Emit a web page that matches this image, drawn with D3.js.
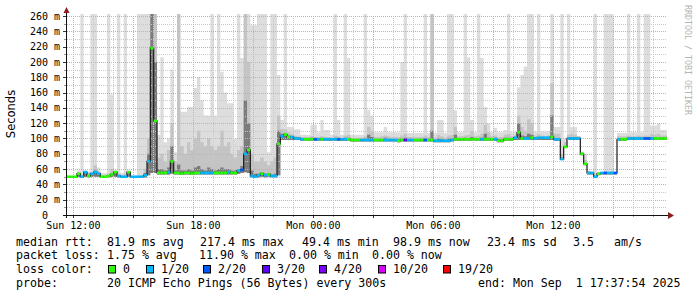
<!DOCTYPE html>
<html>
<head>
<meta charset="utf-8">
<script src="https://cdn.jsdelivr.net/npm/d3@7"></script>
<style>
  body { margin: 0; background: #fff; }
  text { font-family: "DejaVu Sans Mono", monospace; white-space: pre; }
</style>
</head>
<body>
<svg id="chart" width="697" height="297"></svg>
<script>
// 10 minute samples, 30 hours
const START = new Date(2025, 7, 31, 11, 41, 0)
const STEP_MS = 10 * 60 * 1000

const median = [
  50, 50, 50, 54, 50, 56, 51, 54, 56, 54,
  50, 50, 51, 53, 56, 51, 50, 50, 56, 50,
  50, 50, 50, 52, 70, 218, 123, 55, 55, 55,
  56, 70, 55, 55, 54, 55, 55, 54, 55, 55,
  55, 55, 55, 55, 55, 55, 55, 55, 56, 55,
  55, 58, 59, 80, 85, 51, 50, 52, 54, 52,
  53, 51, 51, 93, 103, 105, 102, 102, 100, 100,
  99, 99, 99, 99, 99, 99, 99, 99, 99, 99,
  99, 99, 99, 99, 99, 98, 98, 98, 98, 98,
  98, 98, 98, 98, 98, 98, 98, 98, 98, 97,
  98, 98, 98, 98, 98, 98, 98, 98, 98, 98,
  97, 97, 97, 97, 97, 98, 99, 99, 99, 99,
  99, 99, 99, 99, 99, 99, 99, 99, 99, 97,
  97, 99, 99, 99, 101, 108, 100, 100, 100, 101,
  100, 101, 101, 101, 101, 102, 99, 99, 73, 89,
  100, 100, 100, 100, 80, 67, 55, 55, 50, 54,
  55, 55, 55, 55, 55, 99, 99, 99, 100, 100,
  100, 100, 100, 100, 100, 100, 100, 100, 100, 100,
]

// lost pings out of 20
const loss = [
  0, 0, 0, 0, 1, 1, 0, 1, 1, 1,
  0, 0, 0, 0, 0, 1, 1, 1, 0, 1,
  1, 1, 1, 1, 1, 0, 0, 0, 0, 0,
  1, 0, 0, 0, 0, 0, 0, 0, 0, 0,
  1, 1, 1, 1, 0, 0, 0, 0, 1, 0,
  0, 1, 2, 1, 0, 1, 1, 1, 0, 1,
  0, 1, 1, 0, 1, 0, 0, 1, 1, 1,
  1, 0, 0, 0, 2, 1, 0, 1, 1, 1,
  1, 2, 1, 1, 0, 0, 0, 0, 1, 1,
  1, 1, 0, 0, 0, 1, 1, 1, 1, 0,
  0, 3, 1, 1, 0, 0, 0, 2, 0, 0,
  1, 1, 1, 1, 1, 1, 0, 0, 0, 0,
  0, 0, 0, 0, 1, 0, 0, 0, 1, 0,
  0, 0, 0, 0, 1, 0, 0, 1, 1, 0,
  1, 1, 1, 1, 1, 0, 1, 1, 1, 0,
  1, 1, 1, 1, 0, 0, 1, 1, 1, 0,
  1, 2, 1, 1, 2, 1, 0, 0, 1, 1,
  1, 1, 1, 2, 2, 1, 0, 0, 0, 0,
]

// smoke: lowest ping, and tops of the dark / mid / light bands
const smokeMin = [
  49, 49, 49, 50, 49, 50, 49, 50, 50, 50,
  49, 49, 49, 50, 50, 49, 49, 49, 50, 49,
  49, 49, 49, 49, 52, 55, 55, 53, 53, 53,
  53, 54, 53, 53, 53, 53, 53, 53, 53, 53,
  53, 53, 53, 53, 53, 53, 53, 53, 53, 53,
  53, 54, 55, 56, 55, 49, 49, 49, 50, 49,
  50, 49, 49, 52, 98, 98, 98, 98, 98, 98,
  97, 97, 97, 97, 97, 97, 97, 97, 97, 97,
  97, 97, 97, 97, 97, 96, 96, 96, 96, 96,
  96, 96, 96, 96, 96, 96, 96, 96, 96, 95,
  96, 96, 96, 96, 96, 96, 96, 96, 96, 96,
  95, 95, 95, 95, 95, 96, 97, 97, 97, 97,
  97, 97, 97, 97, 97, 97, 97, 97, 97, 95,
  95, 97, 97, 97, 98, 98, 98, 98, 98, 98,
  98, 98, 98, 98, 98, 98, 97, 97, 72, 88,
  98, 98, 98, 98, 78, 65, 53, 53, 49, 52,
  53, 53, 53, 53, 53, 97, 97, 97, 98, 98,
  98, 98, 98, 98, 98, 98, 98, 98, 98, 98,
]

const smokeDark = [
  50, 50, 50, 55, 51, 56, 52, 55, 58, 55,
  51, 51, 52, 54, 56, 52, 51, 51, 56, 50,
  50, 50, 51, 55, 80, 270, 200, 60, 60, 58,
  62, 90, 58, 66, 58, 58, 60, 58, 62, 64,
  60, 58, 62, 60, 58, 60, 62, 60, 60, 58,
  58, 60, 64, 150, 120, 58, 54, 54, 56, 54,
  55, 53, 54, 110, 106, 107, 104, 103, 102, 101,
  100, 100, 100, 101, 100, 100, 101, 100, 100, 100,
  101, 100, 100, 101, 101, 99, 99, 99, 99, 100,
  105, 102, 99, 99, 99, 101, 99, 99, 99, 99,
  100, 101, 99, 99, 99, 99, 99, 100, 99, 110,
  98, 100, 99, 98, 100, 100, 105, 100, 100, 101,
  100, 102, 100, 100, 101, 106, 101, 100, 101, 99,
  99, 101, 101, 100, 102, 120, 104, 103, 106, 105,
  101, 102, 102, 102, 102, 130, 100, 100, 75, 90,
  101, 101, 101, 101, 81, 68, 56, 56, 51, 55,
  56, 56, 56, 56, 56, 100, 100, 100, 101, 101,
  101, 101, 101, 101, 101, 102, 101, 101, 101, 101,
]

const smokeMid = [
  50, 50, 50, 56, 53, 57, 55, 56, 65, 57,
  52, 52, 54, 60, 57, 54, 52, 54, 57, 50,
  50, 51, 52, 60, 100, 270, 270, 75, 80, 70,
  85, 120, 70, 270, 90, 80, 95, 85, 100, 110,
  95, 90, 100, 90, 85, 90, 110, 90, 95, 80,
  75, 85, 90, 270, 200, 80, 70, 70, 75, 70,
  65, 70, 75, 130, 112, 112, 108, 106, 104, 103,
  102, 102, 102, 103, 102, 102, 103, 102, 102, 101,
  104, 103, 101, 104, 105, 101, 101, 101, 101, 103,
  115, 110, 102, 102, 103, 104, 103, 102, 102, 102,
  104, 106, 102, 102, 102, 102, 102, 104, 102, 270,
  101, 105, 103, 101, 104, 105, 115, 103, 103, 104,
  105, 110, 103, 104, 106, 118, 108, 103, 104, 102,
  102, 105, 106, 103, 104, 130, 115, 110, 125, 120,
  104, 106, 104, 103, 104, 172, 106, 106, 80, 95,
  105, 106, 105, 103, 82, 72, 57, 56, 52, 55,
  56, 57, 56, 57, 56, 103, 103, 103, 104, 103,
  103, 104, 103, 104, 104, 106, 105, 106, 104, 104,
]

const smokeMax = [
  50, 51, 51, 58, 270, 58, 57, 270, 270, 62,
  55, 55, 270, 157, 58, 270, 55, 270, 58, 51,
  51, 270, 270, 270, 270, 270, 270, 105, 206, 95,
  100, 190, 82, 270, 135, 135, 141, 141, 166, 180,
  150, 130, 130, 270, 130, 270, 187, 160, 146, 146,
  100, 270, 205, 270, 270, 248, 248, 270, 270, 270,
  82, 270, 270, 183, 124, 270, 115, 115, 112, 112,
  105, 105, 105, 118, 118, 108, 124, 111, 111, 105,
  270, 124, 105, 270, 205, 105, 105, 105, 105, 270,
  137, 130, 108, 108, 108, 115, 108, 108, 108, 108,
  200, 270, 107, 107, 107, 107, 107, 270, 107, 270,
  107, 124, 124, 107, 270, 270, 137, 108, 108, 270,
  206, 124, 108, 270, 205, 141, 120, 108, 114, 108,
  108, 111, 270, 108, 108, 167, 183, 194, 270, 270,
  109, 270, 109, 109, 109, 270, 115, 115, 270, 100,
  270, 115, 115, 103, 83, 80, 58, 57, 270, 56,
  56, 270, 270, 270, 56, 107, 107, 107, 270, 108,
  108, 270, 108, 270, 270, 117, 117, 120, 111, 111,
]

const lossLabels = ["0", "1/20", "2/20", "3/20", "4/20", "10/20", "19/20"]
const lossColors = ["#26ff00", "#00b8ff", "#0059ff", "#5e00ff", "#7e00ff", "#dd00ff", "#ff0000"]
const lossBreaks = [1, 2, 3, 4, 10, 19]

const rttLegend = ["81.9 ms avg", "217.4 ms max", "49.4 ms min", "98.9 ms now", "23.4 ms sd", "3.5", "am/s"]
const lossLegend = ["1.75 % avg", "11.90 % max", "0.00 % min", "0.00 % now"]
const probeText = "20 ICMP Echo Pings (56 Bytes) every 300s"
const endText = "end: Mon Sep  1 17:37:54 2025"

const LEFT = 67
const WIDTH = 600
const TOP = 16
const BOTTOM = 215

const svg = d3.select("#chart")

const rows = median.map((m, i) => ({
  t: new Date(START.getTime() + i * STEP_MS),
  median: m,
  loss: loss[i],
  min: smokeMin[i],
  dark: smokeDark[i],
  mid: smokeMid[i],
  max: smokeMax[i],
}))
// closing point for the step curves
const last = rows[rows.length - 1]
const stepRows = rows.concat([{...last, t: new Date(last.t.getTime() + STEP_MS)}])

const x = d3
  .scaleTime()
  .domain([START, new Date(START.getTime() + 30 * 3600 * 1000)])
  .range([LEFT, LEFT + WIDTH])
const y = d3.scaleLinear().domain([0, 260]).range([BOTTOM, TOP])
const lossColor = d3.scaleThreshold().domain(lossBreaks).range(lossColors)

svg
  .append("defs")
  .append("clipPath")
  .attr("id", "plot")
  .append("rect")
  .attr("x", LEFT)
  .attr("y", TOP - 2)
  .attr("width", WIDTH)
  .attr("height", BOTTOM - TOP + 2)

// smoke
const smoke = svg.append("g").attr("clip-path", "url(#plot)")
const bands = [
  ["max", "#dddddd"],
  ["mid", "#c4c4c4"],
  ["dark", "#7c7c7c"],
]
bands.forEach(([key, color]) => {
  const area = d3
    .area()
    .curve(d3.curveStepAfter)
    .x((d) => x(d.t))
    .y0((d) => y(d.min))
    .y1((d) => y(d[key]))
  smoke.append("path").datum(stepRows).attr("d", area).attr("fill", color)
})

// grid
const grid = svg.append("g").attr("shape-rendering", "crispEdges")
d3.range(10, 261, 10).forEach((v) => {
  const major = v % 20 === 0
  grid
    .append("line")
    .attr("x1", LEFT)
    .attr("x2", LEFT + WIDTH)
    .attr("y1", Math.round(y(v)) + 0.5)
    .attr("y2", Math.round(y(v)) + 0.5)
    .attr("stroke", major ? "#e8a0a0" : "#c8c8c8")
    .attr("stroke-dasharray", "1,1")
  grid
    .append("line")
    .attr("x1", major ? 63 : 64)
    .attr("x2", LEFT)
    .attr("y1", Math.round(y(v)) + 0.5)
    .attr("y2", Math.round(y(v)) + 0.5)
    .attr("stroke", major ? "#333" : "#999")
})
x.ticks(d3.timeHour.every(1)).forEach((t) => {
  const major = t.getHours() % 3 === 0
  const px = Math.round(x(t)) + 0.5
  grid
    .append("line")
    .attr("x1", px)
    .attr("x2", px)
    .attr("y1", TOP)
    .attr("y2", BOTTOM)
    .attr("stroke", major ? "#e8a0a0" : "#c8c8c8")
    .attr("stroke-dasharray", "1,1")
  grid
    .append("line")
    .attr("x1", px)
    .attr("x2", px)
    .attr("y1", BOTTOM)
    .attr("y2", BOTTOM + (major ? 3 : 2))
    .attr("stroke", major ? "#333" : "#999")
})

// median line
const plot = svg.append("g").attr("clip-path", "url(#plot)")
plot
  .append("path")
  .datum(stepRows)
  .attr(
    "d",
    d3
      .line()
      .curve(d3.curveStepAfter)
      .x((d) => x(d.t))
      .y((d) => y(d.median))
  )
  .attr("fill", "none")
  .attr("stroke", "#1a1a1a")
  .attr("stroke-width", 1.2)
plot
  .selectAll(".seg")
  .data(rows)
  .enter()
  .append("line")
  .attr("class", "seg")
  .attr("x1", (d) => x(d.t))
  .attr("x2", (d) => x(new Date(d.t.getTime() + STEP_MS)))
  .attr("y1", (d) => y(d.median))
  .attr("y2", (d) => y(d.median))
  .attr("stroke", (d) => lossColor(d.loss))
  .attr("stroke-width", 2.6)

// axes
const axis = svg.append("g").attr("shape-rendering", "crispEdges")
axis
  .append("line")
  .attr("x1", 63)
  .attr("x2", 669)
  .attr("y1", BOTTOM + 0.5)
  .attr("y2", BOTTOM + 0.5)
  .attr("stroke", "#111")
axis
  .append("line")
  .attr("x1", 66.5)
  .attr("x2", 66.5)
  .attr("y1", BOTTOM + 3)
  .attr("y2", 12)
  .attr("stroke", "#111")
svg
  .append("path")
  .attr("d", "M668,212 L674,215.5 L668,219 Z")
  .attr("fill", "#8e1c1c")
svg
  .append("path")
  .attr("d", "M63.5,13 L66.5,7 L69.5,13 Z")
  .attr("fill", "#8e1c1c")

// tick labels
const fmt = d3.timeFormat("%a %H:%M")
svg
  .selectAll(".xl")
  .data(x.ticks(d3.timeHour.every(6)))
  .enter()
  .append("text")
  .attr("x", (d) => x(d))
  .attr("y", 228.5)
  .attr("text-anchor", "middle")
  .attr("font-size", 10)
  .text((d) => fmt(d))
svg
  .selectAll(".yl")
  .data(d3.range(0, 261, 20))
  .enter()
  .append("text")
  .attr("x", (d) => (d === 0 ? 48 : 60))
  .attr("y", (d) => y(d) + 3.6)
  .attr("text-anchor", "end")
  .attr("font-size", 10)
  .text((d) => (d === 0 ? "0" : `${d} m`))

svg
  .append("text")
  .attr("transform", "translate(15,114) rotate(-90)")
  .attr("text-anchor", "middle")
  .attr("font-size", 11.5)
  .style("font-family", "DejaVu Sans")
  .text("Seconds")

svg
  .append("text")
  .attr("transform", "translate(685,5) rotate(90)")
  .attr("font-size", 8.3)
  .attr("fill", "#b4b4b4")
  .text("RRDTOOL / TOBI OETIKER")

// legend
const FS = 11.6
const legend = svg.append("g").attr("font-size", FS)
const row = (txt, px, py) =>
  legend.append("text").attr("x", px).attr("y", py).text(txt)

row("median rtt:", 16, 245.5)
const rttX = [107, 200, 302, 393, 487, 573, 614]
rttLegend.forEach((s, i) => row(s, rttX[i], 245.5))

row("packet loss:", 16, 259)
const lossX = [107, 199, 289, 372]
lossLegend.forEach((s, i) => row(s, lossX[i], 259))

row("loss color:", 16, 273)
const boxX = [108, 146, 203, 262, 319, 378, 443]
lossLabels.forEach((s, i) => {
  legend
    .append("rect")
    .attr("x", boxX[i] + 0.5)
    .attr("y", 265.5)
    .attr("width", 7)
    .attr("height", 7.5)
    .attr("fill", lossColors[i])
    .attr("stroke", "#000")
  row(s, boxX[i] + 15, 273)
})

row("probe:", 16, 286.5)
row(probeText, 107, 286.5)
row(endText, 478, 286.5)
</script>
</body>
</html>
